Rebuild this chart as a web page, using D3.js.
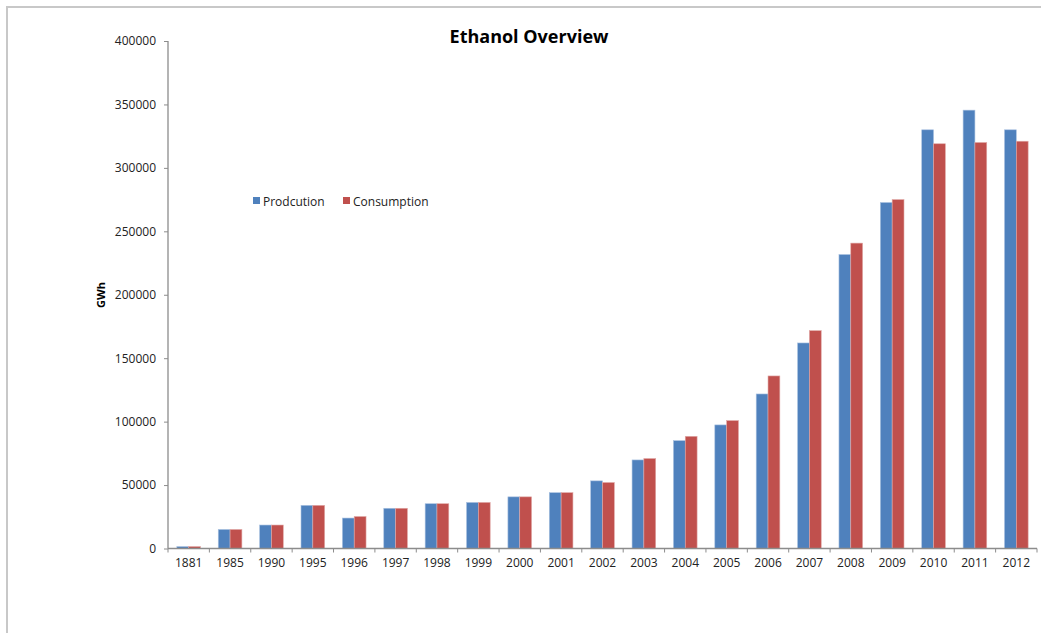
<!DOCTYPE html>
<html>
<head>
<meta charset="utf-8">
<script src="https://cdn.jsdelivr.net/npm/d3@7/dist/d3.min.js"></script>
<style>
  html, body { margin: 0; padding: 0; background: #fff; }
  svg { display: block; }
  text { font-family: "Open Sans", "DejaVu Sans", sans-serif; }
</style>
</head>
<body>
<svg id="chart" width="1041" height="633"></svg>
<script>
const categories = ["1881","1985","1990","1995","1996","1997","1998","1999","2000","2001","2002","2003","2004","2005","2006","2007","2008","2009","2010","2011","2012"];
const production = [1500,15000,18500,34000,24000,31700,35300,36300,40700,44000,53300,69800,85000,97400,121800,162000,231700,272700,330000,345500,330000];
const consumption = [1500,15000,18500,34000,25200,31700,35300,36300,40700,44000,52000,70900,88400,100800,136000,171700,240700,275000,319000,320000,321000];
const seriesNames = ["Prodcution","Consumption"];
const seriesColors = ["#4F81BD","#C0504D"];
const yTicks = [0,50000,100000,150000,200000,250000,300000,350000,400000];
const titleText = "Ethanol Overview";
const yLabel = "GWh";

(function () {
const svg = d3.select("#chart");

// outer chart border
svg.append("path")
  .attr("d", "M7,640 L7,7 L1050,7")
  .attr("fill", "none").attr("stroke", "#c8c8c8").attr("stroke-width", 2);

const pLeft = 168, pRight = 1037, pTop = 41, pBottom = 548.5;

const x0 = d3.scaleBand().domain(categories).range([pLeft, pRight]).paddingInner(0).paddingOuter(0);
const catW = x0.bandwidth();
const barW = catW / 3.5;
const y = d3.scaleLinear().domain([0, 400000]).range([pBottom, pTop]);

// bars
const series = [production, consumption];
series.forEach((vals, si) => {
  svg.append("g").selectAll("rect")
    .data(vals)
    .join("rect")
    .attr("x", (d, i) => x0(categories[i]) + catW / 2 - barW + si * barW)
    .attr("y", d => y(d))
    .attr("width", barW)
    .attr("height", d => y(0) - y(d))
    .attr("fill", seriesColors[si])
    .attr("stroke", si === 0 ? "#a9c1e0" : "#e0a8a6")
    .attr("stroke-width", 0.6);
});

// y axis
const yAxis = d3.axisLeft(y).tickValues(yTicks).tickFormat(d3.format("d")).tickSize(4).tickPadding(8);
const gy = svg.append("g").attr("transform", `translate(${pLeft},0)`).call(yAxis);
gy.select(".domain").attr("stroke", "#8c8c8c").attr("stroke-width", 1.3).attr("d", `M0,${pTop}V${pBottom}`);
gy.selectAll(".tick line").attr("stroke", "#8c8c8c");
gy.selectAll(".tick text").attr("fill", "#222").attr("font-size", 12).attr("font-family", "'Open Sans', sans-serif");

// x axis
const xAxis = d3.axisBottom(x0).tickSize(0).tickPadding(10);
const gx = svg.append("g").attr("transform", `translate(0,${pBottom})`).call(xAxis);
gx.select(".domain").attr("stroke", "#8c8c8c").attr("stroke-width", 1.3).attr("d", `M${pLeft},0H${pRight}`);
gx.selectAll(".tick text").attr("fill", "#222").attr("font-size", 12).attr("font-family", "'Open Sans', sans-serif");
// category separator ticks
svg.append("g").selectAll("line")
  .data(categories.concat(["__end"]))
  .join("line")
  .attr("x1", (d, i) => i < categories.length ? x0(d) : pRight)
  .attr("x2", (d, i) => i < categories.length ? x0(d) : pRight)
  .attr("y1", pBottom).attr("y2", pBottom + 4)
  .attr("stroke", "#8c8c8c");

// title
svg.append("text").attr("x", 529).attr("y", 43).attr("text-anchor", "middle")
  .attr("font-size", 18).attr("font-weight", "bold").attr("fill", "#000").text(titleText);

// y label
svg.append("text").attr("transform", "translate(105,295) rotate(-90)").attr("text-anchor", "middle")
  .attr("font-size", 11).attr("font-weight", "bold").attr("fill", "#000").text(yLabel);

// legend
const legendX = [253, 343];
seriesNames.forEach((n, i) => {
  svg.append("rect").attr("x", legendX[i]).attr("y", 197).attr("width", 7).attr("height", 7).attr("fill", seriesColors[i]);
  svg.append("text").attr("x", legendX[i] + 10).attr("y", 205.5).attr("font-size", 12).attr("fill", "#222").text(n);
});
})();
</script>
</body>
</html>
